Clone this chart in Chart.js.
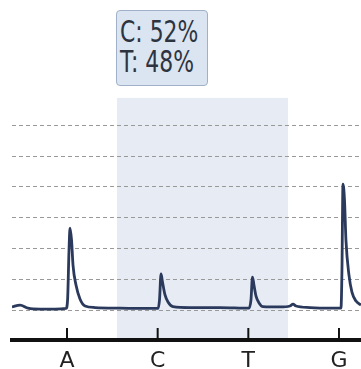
<!DOCTYPE html>
<html>
<head>
<meta charset="utf-8">
<script src="https://cdn.jsdelivr.net/npm/chart.js@4.4.1/dist/chart.umd.min.js"></script>
<style>
  html, body { margin: 0; padding: 0; background: #fff; }
  #wrap { position: relative; width: 361px; height: 369px; }
  #call {
    position: absolute; left: 116px; top: 10px; width: 92px; height: 76px;
    box-sizing: border-box; background: #dbe4f1; border: 1px solid #9fb0c8;
    border-radius: 4px; padding: 5.5px 0 0 3px;
    font-family: "DejaVu Sans", sans-serif;
    font-size: 30px; line-height: 30px; color: #2d3440;
  }
  #call span { display: block; white-space: nowrap; transform: scaleX(0.73); transform-origin: 0 0; }
</style>
</head>
<body>
<div id="wrap">
  <canvas id="chart"></canvas>
  <div id="call"></div>
</div>
<script>
// base calls under the trace (A=1, C=2, T=3, G=4)
const bases = ['A', 'C', 'T', 'G'];
const basePos = [1, 2, 3, 4];
// ambiguous position C/T
const callText = ['C: 52%', 'T: 48%'];
const shadeFrom = 1.55;
const shadeTo = 3.44;
const gridValues = [0, 100, 200, 300, 400, 500, 600];

// chromatogram trace
const traceX = [0.393, 0.482, 0.570, 0.702, 0.868, 0.989, 1.006, 1.022, 1.033, 1.050, 1.066, 1.099, 1.143, 1.199,
  1.309, 1.585, 1.915, 2.004, 2.020, 2.037, 2.053, 2.081, 2.114, 2.169, 2.357, 2.687, 3.007, 3.029, 3.046,
  3.062, 3.085, 3.118, 3.162, 3.349, 3.459, 3.493, 3.526, 3.680, 3.901, 4.022, 4.033, 4.044, 4.061, 4.077,
  4.110, 4.143, 4.188, 4.243];
const traceY = [10, 16, 6, 3, 3, 5, 32, 195, 266, 227, 146, 81, 36, 13,
  8, 6, 5, 5, 32, 117, 91, 49, 26, 11, 8, 8, 6, 32, 107,
  81, 45, 23, 11, 10, 13, 19, 13, 8, 6, 6, 130, 409, 357, 227,
  114, 58, 29, 16];

const traceData = traceX.map((x, i) => ({ x: x, y: traceY[i] }));

const upTicks = {
  id: 'upTicks',
  afterDatasetsDraw(chart) {
    const xs = chart.scales.x;
    const ctx = chart.ctx;
    const b = chart.chartArea.bottom;
    ctx.save();
    ctx.strokeStyle = '#111';
    ctx.lineWidth = 2;
    basePos.forEach(v => {
      const px = xs.getPixelForValue(v);
      ctx.beginPath();
      ctx.moveTo(px, b);
      ctx.lineTo(px, b - 12);
      ctx.stroke();
    });
    ctx.restore();
  }
};

document.getElementById('call').innerHTML = callText.map(t => '<span>' + t + '</span>').join('');

new Chart(document.getElementById('chart'), {
  type: 'line',
  data: {
    datasets: [
      {
        data: traceData,
        borderColor: '#2b3a5c',
        borderWidth: 2.8,
        pointRadius: 0,
        cubicInterpolationMode: 'monotone',
        fill: false
      },
      {
        data: [{ x: shadeFrom, y: 690 }, { x: shadeTo, y: 690 }],
        borderWidth: 0,
        pointRadius: 0,
        backgroundColor: '#e6ebf4',
        fill: 'start'
      }
    ]
  },
  options: {
    responsive: true,
    maintainAspectRatio: false,
    animation: false,
    layout: { padding: { top: 97.5, left: 0, right: 0, bottom: 0 } },
    plugins: {
      legend: { display: false },
      tooltip: { enabled: false },
      filler: { drawTime: 'beforeDraw' }
    },
    scales: {
      x: {
        type: 'linear',
        min: 0.393,
        max: 4.243,
        afterBuildTicks: s => { s.ticks = basePos.map(v => ({ value: v })); },
        afterFit: s => { s.height = 29; },
        grid: { display: false },
        border: { display: true, color: '#111', width: 4 },
        ticks: {
          padding: 0,
          color: '#222',
          font: { family: '"DejaVu Sans", sans-serif', size: 22 },
          callback: v => bases[basePos.indexOf(v)]
        }
      },
      y: {
        min: -97.4,
        max: 690,
        afterBuildTicks: s => { s.ticks = gridValues.map(v => ({ value: v })); },
        afterFit: s => { s.width = 12; },
        grid: { color: '#999', lineWidth: 1, drawTicks: false },
        border: { display: false, dash: [4, 3] },
        ticks: { display: false }
      }
    }
  },
  plugins: [upTicks]
});
</script>
</body>
</html>
